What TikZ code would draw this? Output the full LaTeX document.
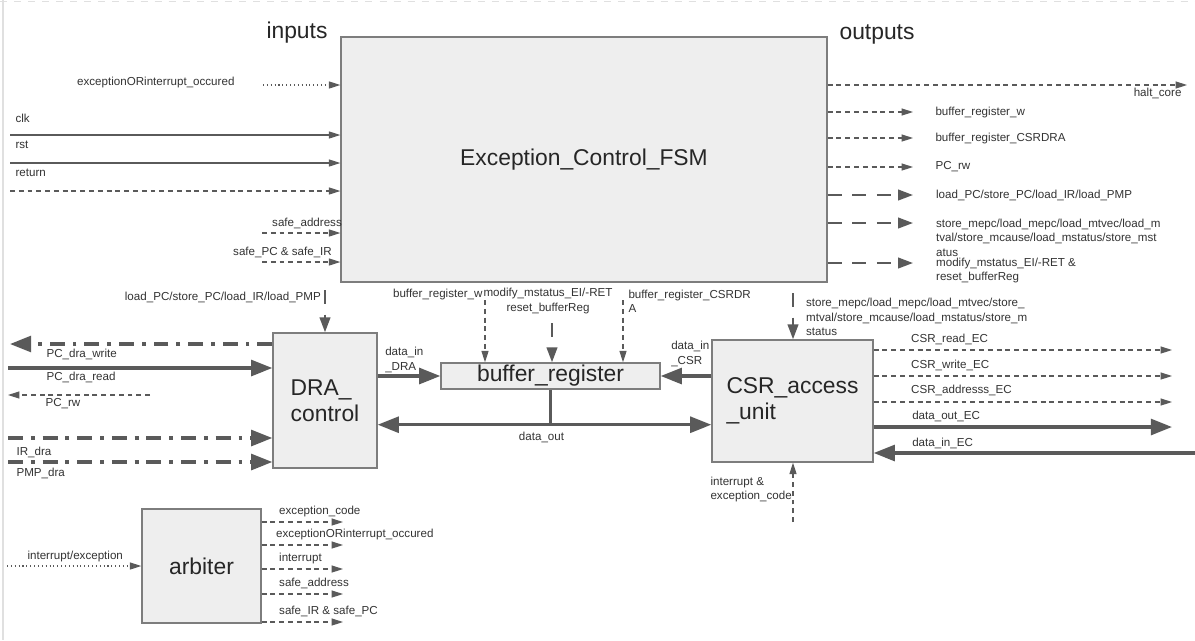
\documentclass[tikz,border=0pt]{standalone}
\usepackage{fontspec}
\setmainfont{Liberation Sans}
\usetikzlibrary{positioning,arrows.meta,calc}
\definecolor{linegray}{HTML}{5A5A5A}
\definecolor{boxfill}{HTML}{EEEEEE}
\definecolor{boxline}{HTML}{7D7D7D}
\definecolor{txt}{HTML}{333333}
\newcommand{\sigfont}{\fontsize{6.6}{8.2}\selectfont}
\newcommand{\blockfont}{\fontsize{13}{15}\selectfont}

\begin{document}
\begin{tikzpicture}[x=0.02cm, y=-0.02cm, font=\sigfont,
  blk/.style={draw=boxline, fill=boxfill, line width=0.8pt, inner sep=0pt, font=\blockfont, text=black!85},
  ttl/.style={font=\blockfont, text=black!85, inner sep=0pt},
  lab/.style={font=\sigfont, text=txt, inner sep=0pt, align=left},
  wire/.style={draw=linegray, line width=0.6pt, -{Triangle[length=6.5pt, width=4pt]}},
  dwire/.style={wire, dash pattern=on 2.8pt off 2.2pt},
  owire/.style={wire, dash pattern=on 0.6pt off 1.6pt},
  mwire/.style={draw=linegray, line width=1.3pt, dash pattern=on 8pt off 6pt, -{Triangle[length=8.5pt, width=6pt]}},
  bus/.style={draw=linegray, line width=1.8pt, -{Triangle[length=12pt, width=9pt]}},
  cwire/.style={bus, dash pattern=on 8.5pt off 4.5pt on 2.2pt off 4.5pt}]
  \fill[white] (0,0) rectangle (1195,640);
  \useasboundingbox (0,0) rectangle (1195,640);
  % page edges
  \draw[black!12, line width=0.6pt] (3,0) -- (3,640);
  \draw[black!12, dash pattern=on 4pt off 4pt] (0,1) -- (1195,1);
  % blocks
  \node[blk, minimum width=9.72cm, minimum height=4.9cm] (fsm) at (584,159.5) {Exception\_Control\_FSM};
  \node[blk, minimum width=2.08cm, minimum height=2.7cm, align=left] (dra) at (325,400.5) {DRA\_\\control};
  \node[blk, minimum width=4.38cm, minimum height=0.52cm] (bufreg) at (550.5,376) {buffer\_register};
  \node[blk, minimum width=3.22cm, minimum height=2.44cm, align=left] (csr) at (792.5,401) {CSR\_access\\\_unit};
  \node[blk, minimum width=2.38cm, minimum height=2.28cm] (arb) at (201.5,566) {arbiter};
  \node[ttl] (inlbl) at (297,33) {inputs};
  \node[ttl] (outlbl) at (877,34) {outputs};
  % FSM inputs
  \coordinate (eoiIn) at (263,85);
  \coordinate (clkIn) at (10,135);
  \coordinate (rstIn) at (10,163);
  \coordinate (retIn) at (10,191);
  \coordinate (saIn) at (262,233);
  \coordinate (spIn) at (262,262);
  \draw[owire] (eoiIn) -- (eoiIn -| fsm.west) node[lab, pos=0, anchor=east, shift={(-28,-3)}] {exceptionORinterrupt\_occured};
  \draw[wire] (clkIn) -- (clkIn -| fsm.west) node[lab, pos=0, anchor=west, shift={(5,-17)}] {clk};
  \draw[wire] (rstIn) -- (rstIn -| fsm.west) node[lab, pos=0, anchor=west, shift={(5,-18)}] {rst};
  \draw[dwire] (retIn) -- (retIn -| fsm.west) node[lab, pos=0, anchor=west, shift={(5,-18)}] {return};
  \draw[dwire] (saIn) -- (saIn -| fsm.west) node[lab, pos=1, anchor=east, shift={(2,-10)}] {safe\_address};
  \draw[dwire] (spIn) -- (spIn -| fsm.west) node[lab, pos=1, anchor=east, shift={(-8,-10)}] {safe\_PC \& safe\_IR};
  % FSM outputs
  \coordinate (haltOut) at (1187,85);
  \coordinate (bwOut) at (913,112);
  \coordinate (bcOut) at (913,138);
  \coordinate (pcOut) at (913,167);
  \coordinate (ldOut) at (913,195);
  \coordinate (stOut) at (913,223);
  \coordinate (mdOut) at (913,263);
  \draw[dwire] (fsm.east |- haltOut) -- (haltOut) node[lab, pos=1, anchor=east, shift={(-5,8)}] {halt\_core};
  \draw[dwire] (fsm.east |- bwOut) -- (bwOut) node[lab, pos=1, anchor=west, shift={(22,0)}] {buffer\_register\_w};
  \draw[dwire] (fsm.east |- bcOut) -- (bcOut) node[lab, pos=1, anchor=west, shift={(22,0)}] {buffer\_register\_CSRDRA};
  \draw[dwire] (fsm.east |- pcOut) -- (pcOut) node[lab, pos=1, anchor=west, shift={(22,0)}] {PC\_rw};
  \draw[mwire] (fsm.east |- ldOut) -- (ldOut) node[lab, pos=1, anchor=west, shift={(22,0)}] {load\_PC/store\_PC/load\_IR/load\_PMP};
  \draw[mwire] (fsm.east |- stOut) -- (stOut) node[lab, pos=1, anchor=west, shift={(22,14.5)}] {store\_mepc/load\_mepc/load\_mtvec/load\_m\\tval/store\_mcause/load\_mstatus/store\_mst\\atus};
  \draw[mwire] (fsm.east |- mdOut) -- (mdOut) node[lab, pos=1, anchor=west, shift={(22,7.5)}] {modify\_mstatus\_EI/-RET \&\\reset\_bufferReg};
  % controls into DRA and buffer
  \coordinate (ldDra) at (325,290);
  \coordinate (bwIn) at (485,300);
  \coordinate (mdIn) at (552,323);
  \coordinate (bcIn) at (623,300);
  \draw[mwire] (ldDra) -- (ldDra |- dra.north) node[lab, pos=0, anchor=east, shift={(-3,7)}] {load\_PC/store\_PC/load\_IR/load\_PMP};
  \draw[dwire] (bwIn) -- (bwIn |- bufreg.north) node[lab, pos=0, anchor=east, shift={(-2,-6)}] {buffer\_register\_w};
  \draw[mwire] (mdIn) -- (mdIn |- bufreg.north) node[lab, pos=0, align=center, shift={(-4,-22)}] {modify\_mstatus\_EI/-RET\\reset\_bufferReg};
  \draw[dwire] (bcIn) -- (bcIn |- bufreg.north) node[lab, pos=0, anchor=west, shift={(5,1)}] {buffer\_register\_CSRDR\\A};
  % data paths
  \draw[bus] (dra.east |- bufreg.west) -- (bufreg.west) node[lab, pos=0, anchor=west, shift={(6,-16)}] {data\_in\\\_DRA};
  \draw[bus] (csr.west |- bufreg.east) -- (bufreg.east) node[lab, pos=1, anchor=west, shift={(9,-22)}] {data\_in\\\_CSR};
  \coordinate (dout) at ($(bufreg.south)+(0,35)$);
  \draw[draw=linegray, line width=1.8pt] (bufreg.south) -- (dout) node[lab, pos=1, shift={(-9,13)}] {data\_out};
  \draw[bus, {Triangle[length=12pt, width=9pt]}-{Triangle[length=12pt, width=9pt]}] (dra.east |- dout) -- (csr.west |- dout);
  % CSR access unit
  \coordinate (stCsr) at (793,293);
  \coordinate (intCsr) at (793,522);
  \draw[mwire] (stCsr) -- (stCsr |- csr.north) node[lab, pos=0, anchor=west, shift={(12,24)}] {store\_mepc/load\_mepc/load\_mtvec/store\_\\mtval/store\_mcause/load\_mstatus/store\_m\\status};
  \draw[dwire] (intCsr) -- (intCsr |- csr.south) node[lab, pos=0, anchor=west, shift={(-83,-32.5)}] {interrupt \&\\exception\_code};
  \coordinate (rdEC) at (1172,350);
  \coordinate (wrEC) at (1172,376);
  \coordinate (adEC) at (1172,402);
  \coordinate (doEC) at (1172,427);
  \coordinate (diEC) at (1195,453);
  \draw[dwire] (csr.east |- rdEC) -- (rdEC) node[lab, pos=0, anchor=west, shift={(37,-11)}] {CSR\_read\_EC};
  \draw[dwire] (csr.east |- wrEC) -- (wrEC) node[lab, pos=0, anchor=west, shift={(37,-11)}] {CSR\_write\_EC};
  \draw[dwire] (csr.east |- adEC) -- (adEC) node[lab, pos=0, anchor=west, shift={(37,-12)}] {CSR\_addresss\_EC};
  \draw[bus] (csr.east |- doEC) -- (doEC) node[lab, pos=0, anchor=west, shift={(37,-11)}] {data\_out\_EC};
  \draw[bus] (diEC) -- (diEC -| csr.east) node[lab, pos=1, anchor=west, shift={(37,-10)}] {data\_in\_EC};
  % DRA side
  \coordinate (pwOut) at (10,344);
  \coordinate (prIn) at (8,368);
  \coordinate (rwSrc) at (150,395);
  \coordinate (rwOut) at (8,395);
  \coordinate (irIn) at (8,438);
  \coordinate (pmpIn) at (8,462);
  \draw[cwire] (dra.west |- pwOut) -- (pwOut) node[lab, pos=1, anchor=west, shift={(35,10)}] {PC\_dra\_write};
  \draw[bus] (prIn) -- (prIn -| dra.west) node[lab, pos=0, anchor=west, shift={(37,9)}] {PC\_dra\_read};
  \draw[dwire] (rwSrc) -- (rwOut) node[lab, pos=1, anchor=west, shift={(37,9)}] {PC\_rw};
  \draw[cwire] (irIn) -- (irIn -| dra.west) node[lab, pos=0, anchor=west, shift={(7,14)}] {IR\_dra};
  \draw[cwire] (pmpIn) -- (pmpIn -| dra.west) node[lab, pos=0, anchor=west, shift={(7,11)}] {PMP\_dra};
  % arbiter
  \coordinate (ieIn) at (7,566);
  \coordinate (ecOut) at (343,522);
  \coordinate (eoOut) at (343,545);
  \coordinate (itOut) at (343,569);
  \coordinate (saOut) at (343,594);
  \coordinate (siOut) at (343,622);
  \draw[owire] (ieIn) -- (ieIn -| arb.west) node[lab, pos=0, anchor=west, shift={(20,-10)}] {interrupt/exception};
  \draw[dwire] (arb.east |- ecOut) -- (ecOut) node[lab, pos=0, anchor=west, shift={(17,-11)}] {exception\_code};
  \draw[dwire] (arb.east |- eoOut) -- (eoOut) node[lab, pos=0, anchor=west, shift={(14,-11)}] {exceptionORinterrupt\_occured};
  \draw[dwire] (arb.east |- itOut) -- (itOut) node[lab, pos=0, anchor=west, shift={(17,-11)}] {interrupt};
  \draw[dwire] (arb.east |- saOut) -- (saOut) node[lab, pos=0, anchor=west, shift={(17,-11)}] {safe\_address};
  \draw[dwire] (arb.east |- siOut) -- (siOut) node[lab, pos=0, anchor=west, shift={(17,-11)}] {safe\_IR \& safe\_PC};
\end{tikzpicture}
\end{document}
